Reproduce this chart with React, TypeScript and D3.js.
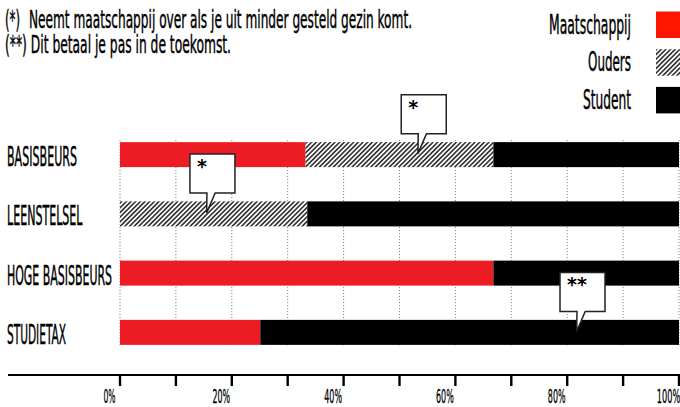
import React from 'react';
import * as d3 from 'd3';

const categories = ['BASISBEURS', 'LEENSTELSEL', 'HOGE BASISBEURS', 'STUDIETAX'];
const seriesNames = ['Maatschappij', 'Ouders', 'Student'];
const maatschappij = [33.2, 0, 66.8, 25.1];
const ouders = [33.6, 33.5, 0, 0];
const student = [33.2, 66.5, 33.2, 74.9];
const tickValues = [0, 10, 20, 30, 40, 50, 60, 70, 80, 90, 100];
const labelValues = [0, 20, 40, 60, 80, 100];
const noteMark1 = '(*)';
const noteText1 = 'Neemt maatschappij over als je uit minder gesteld gezin komt.';
const noteText2 = '(**) Dit betaal je pas in de toekomst.';
const annotations = [
  { category: 'BASISBEURS', pct: 53.3, mark: '*' },
  { category: 'LEENSTELSEL', pct: 15.5, mark: '*' },
  { category: 'STUDIETAX', pct: 81.7, mark: '**' },
];

const W = 680;
const H = 407;
const FONT = "'DejaVu Sans Condensed', 'DejaVu Sans', sans-serif";
const RED = '#ed1c24';
const LEGEND_RED = '#ff1600';

const catWidths: Record<string, number> = {
  BASISBEURS: 70,
  LEENSTELSEL: 75.5,
  'HOGE BASISBEURS': 105,
  STUDIETAX: 59,
};
const legendWidths: Record<string, number> = { Maatschappij: 82, Ouders: 43, Student: 48 };

const heavy = { stroke: '#000', strokeWidth: 0.45 };

export default function App() {
  const x = d3.scaleLinear().domain([0, 100]).range([120, 679]);
  const y = d3
    .scaleBand<string>()
    .domain(categories)
    .range([125, 362])
    .paddingInner(0.578)
    .paddingOuter(0.289);

  const rows = categories.map((c, i) => ({
    category: c,
    Maatschappij: maatschappij[i],
    Ouders: ouders[i],
    Student: student[i],
  }));
  const stacked = d3.stack<any>().keys(seriesNames)(rows);
  const fills: Record<string, string> = {
    Maatschappij: RED,
    Ouders: 'url(#hatch)',
    Student: '#000',
  };
  const legendFills: Record<string, string> = {
    Maatschappij: LEGEND_RED,
    Ouders: 'url(#hatch)',
    Student: '#000',
  };

  const bw = y.bandwidth();

  return (
    <svg
      width={W}
      height={H}
      style={{ position: 'absolute', left: 0, top: 0, background: '#fff' }}
      fontFamily={FONT}
    >
      <defs>
        <pattern
          id="hatch"
          patternUnits="userSpaceOnUse"
          width={3.3}
          height={3.3}
          patternTransform="rotate(45)"
        >
          <rect width={3.3} height={3.3} fill="#fff" />
          <line x1={0.8} y1={0} x2={0.8} y2={3.3} stroke="#000" strokeWidth={1.3} />
        </pattern>
      </defs>

      {/* notes */}
      <text x={5} y={28} fontSize={25} textLength={15} lengthAdjust="spacingAndGlyphs" {...heavy}>
        {noteMark1}
      </text>
      <text x={29} y={28} fontSize={25} textLength={383} lengthAdjust="spacingAndGlyphs" {...heavy}>
        {noteText1}
      </text>
      <text x={5} y={53} fontSize={25} textLength={226} lengthAdjust="spacingAndGlyphs" {...heavy}>
        {noteText2}
      </text>

      {/* legend */}
      {seriesNames.map((s, i) => {
        const cy = 24.5 + i * 37.7;
        return (
          <g key={s}>
            <text
              x={631}
              y={cy + 9}
              fontSize={26}
              textAnchor="end"
              textLength={legendWidths[s]}
              lengthAdjust="spacingAndGlyphs"
              {...heavy}
            >
              {s}
            </text>
            <rect x={656} y={cy - 13} width={24} height={26.5} fill={legendFills[s]} />
          </g>
        );
      })}

      {/* grid */}
      {tickValues.map((t) => (
        <line
          key={'g' + t}
          x1={x(t)}
          x2={x(t)}
          y1={140}
          y2={347}
          stroke="#888"
          strokeWidth={1}
          strokeDasharray="1.2,1.8"
        />
      ))}

      {/* bars */}
      {stacked.map((layer) =>
        layer.map((d, i) => {
          const w = x(d[1]) - x(d[0]);
          if (w <= 0) return null;
          return (
            <rect
              key={layer.key + i}
              x={x(d[0])}
              y={y(categories[i])!}
              width={w}
              height={bw}
              fill={fills[layer.key]}
            />
          );
        })
      )}

      {/* category labels */}
      {categories.map((c) => (
        <text
          key={c}
          x={7}
          y={y(c)! + bw / 2 + 11.5}
          fontSize={26}
          textLength={catWidths[c]}
          lengthAdjust="spacingAndGlyphs"
          {...heavy}
        >
          {c}
        </text>
      ))}

      {/* callouts */}
      {annotations.map((a) => {
        const tx = x(a.pct);
        const ty = y(a.category)! + bw / 2 - 1;
        const bottom = ty - 20;
        const left = tx - 16.7;
        const right = left + 45;
        const top = bottom - 39;
        const path = [
          `M${left},${top}`,
          `L${right},${top}`,
          `L${right},${bottom}`,
          `L${tx + 8.5},${bottom}`,
          `L${tx},${ty}`,
          `L${tx + 0.3},${bottom}`,
          `L${left},${bottom}`,
          'Z',
        ].join(' ');
        return (
          <g key={a.category}>
            <path d={path} fill="#fff" stroke="#222" strokeWidth={1.5} strokeLinejoin="miter" />
            <text
              x={left + 7}
              y={top + 19}
              fontSize={19}
              fontWeight="bold"
              fontFamily="'DejaVu Sans', sans-serif"
            >
              {a.mark}
            </text>
          </g>
        );
      })}

      {/* axis */}
      <line x1={8} x2={680} y1={375} y2={375} stroke="#000" strokeWidth={2.2} />
      {tickValues.map((t) => (
        <line key={'t' + t} x1={x(t)} x2={x(t)} y1={374} y2={386} stroke="#000" strokeWidth={2.4} />
      ))}
      {labelValues.map((t) => {
        const label = `${t}%`;
        return (
          <text
            key={'l' + t}
            x={x(t) - 10.5}
            y={403}
            fontSize={20}
            textAnchor="middle"
            textLength={5.6 * (label.length - 1) + 6.5}
            lengthAdjust="spacingAndGlyphs"
            stroke="#000"
            strokeWidth={0.3}
          >
            {label}
          </text>
        );
      })}
    </svg>
  );
}
